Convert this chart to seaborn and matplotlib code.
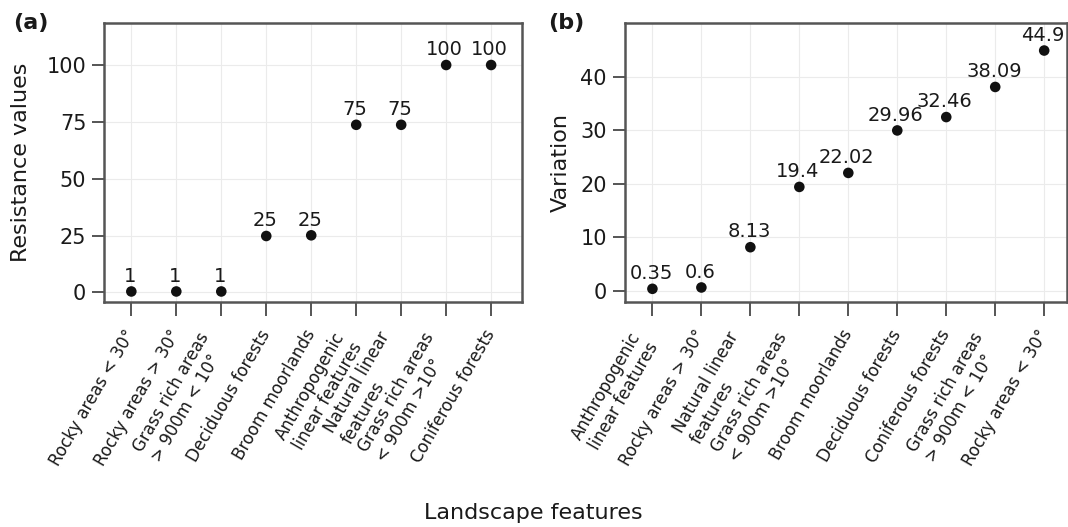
import pandas as pd
import numpy as np
import matplotlib.pyplot as plt
import matplotlib.transforms as mtrans
import seaborn as sns

# ---------------------------
# Data
# ---------------------------
feat_a = ["Rocky areas < 30°", "Rocky areas > 30°", "Grass rich areas\n> 900m < 10°",
          "Deciduous forests", "Broom moorlands", "Anthropogenic\nlinear features",
          "Natural linear\nfeatures", "Grass rich areas\n< 900m >10°", "Coniferous forests"]
resist_pts = [0.4, 0.4, 0.4, 24.8, 25.1, 73.7, 73.7, 100, 100]
resist_lbl = ["1", "1", "1", "25", "25", "75", "75", "100", "100"]

feat_b = ["Anthropogenic\nlinear features", "Rocky areas > 30°", "Natural linear\nfeatures",
          "Grass rich areas\n< 900m >10°", "Broom moorlands", "Deciduous forests",
          "Coniferous forests", "Grass rich areas\n> 900m < 10°", "Rocky areas < 30°"]
variation = [0.35, 0.6, 8.13, 19.4, 22.02, 29.96, 32.46, 38.09, 44.9]
var_lbl = ["0.35", "0.6", "8.13", "19.4", "22.02", "29.96", "32.46", "38.09", "44.9"]

df_a = pd.DataFrame({"feature": feat_a, "value": resist_pts, "label": resist_lbl})
df_b = pd.DataFrame({"feature": feat_b, "value": variation, "label": var_lbl})

# ---------------------------
# Style
# ---------------------------
sns.set_style("white")
plt.rcParams["font.family"] = ["DejaVu Sans"]
frame_col = "#555555"
text_col = "#1a1a1a"

fig = plt.figure(figsize=(10.68, 5.27), dpi=100)
ax_a = fig.add_axes([0.0977, 0.4275, 0.3908, 0.5294])
ax_b = fig.add_axes([0.5852, 0.4275, 0.4136, 0.5294])


def draw_panel(ax, df, ylim, yticks, ylabel, xlim, lpad):
    ax.grid(True, color="#ebebeb", linewidth=0.8)
    ax.set_axisbelow(True)
    sns.scatterplot(data=df, x="feature", y="value", ax=ax, color="#111111",
                    s=58, edgecolor="none", zorder=3)
    for i, row in df.iterrows():
        ax.annotate(row["label"], (i, row["value"]), xytext=(-1, 7),
                    textcoords="offset points", ha="center", va="baseline",
                    fontsize=14, color=text_col)
    ax.set_xlim(*xlim)
    ax.set_ylim(*ylim)
    ax.set_yticks(yticks)
    ax.set_xticks(range(len(df)))
    ax.tick_params(axis="y", labelsize=15, labelcolor=text_col, length=9,
                   width=1.4, color=frame_col, pad=4, left=True)
    ax.tick_params(axis="x", length=10, width=1.4, color=frame_col, pad=11,
                   bottom=True)
    ax.set_xticklabels(df["feature"], rotation=60, ha="right", va="center",
                       rotation_mode="anchor", multialignment="left",
                       fontsize=12, color=text_col)
    # two-line labels sit a little further down-left
    shift = mtrans.ScaledTranslation(-0.07, -0.08, fig.dpi_scale_trans)
    for lab in ax.get_xticklabels():
        if "\n" in lab.get_text():
            lab.set_transform(lab.get_transform() + shift)
    ax.set_xlabel("")
    ax.set_ylabel(ylabel, fontsize=16, color=text_col, labelpad=lpad)
    for sp in ax.spines.values():
        sp.set_color(frame_col)
        sp.set_linewidth(1.8)


draw_panel(ax_a, df_a, (-4.1, 118.6), [0, 25, 50, 75, 100], "Resistance values",
           (-0.6, 8.68), 11)
draw_panel(ax_b, df_b, (-2.06, 50.1), [0, 10, 20, 30, 40], "Variation",
           (-0.56, 8.46), 7)

fig.text(0.012, 0.957, "(a)", fontsize=16, fontweight="bold", color=text_col, va="center")
fig.text(0.513, 0.957, "(b)", fontsize=16, fontweight="bold", color=text_col, va="center")
fig.text(0.499, 0.027, "Landscape features", fontsize=16, color=text_col,
         ha="center", va="center")

plt.savefig("out.png", dpi=100)
